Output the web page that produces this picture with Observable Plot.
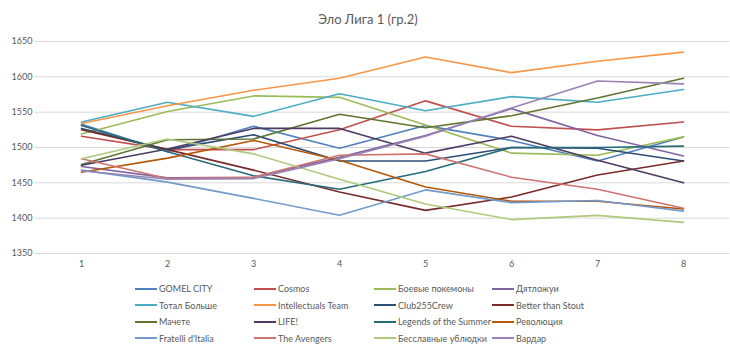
<!DOCTYPE html>
<html><head><meta charset="utf-8">
<script src="https://cdn.jsdelivr.net/npm/d3@7"></script>
<script src="https://cdn.jsdelivr.net/npm/@observablehq/plot@0.6"></script>
<style>
body{margin:0;background:#fff;font-family:Lato,"Open Sans",sans-serif;color:#595959;}
#wrap{width:730px;height:353px;position:relative;overflow:hidden;background:#fff}
#title{position:absolute;left:0;width:736px;top:11px;text-align:center;font-size:13px;line-height:16px;color:#595959}
#chart{position:absolute;left:0;top:30px}
#legend{position:absolute;left:0;top:0;width:730px;height:353px;pointer-events:none}
.item{position:absolute;font-size:9px;line-height:12px;white-space:nowrap;color:#595959}
.sw{display:inline-block;width:22px;height:2px;vertical-align:middle;margin-right:2px;position:relative;top:-1px}
</style></head>
<body><div id="wrap"><div id="title">Эло Лига 1 (гр.2)</div><div id="chart"></div><div id="legend"></div></div>
<script>
const rounds = [1, 2, 3, 4, 5, 6, 7, 8];
const yTicks = [1350, 1400, 1450, 1500, 1550, 1600, 1650];
const teams = ["GOMEL CITY", "Cosmos", "Боевые покемоны", "Дятложуи", "Тотал Больше", "Intellectuals Team", "Club255Crew", "Better than Stout", "Мачете", "LIFE!", "Legends of the Summer", "Революция", "Fratelli d'Italia", "The Avengers", "Бесславные ублюдки", "Вардар"];
const colors = ["#4F81BD", "#C0504D", "#9BBB59", "#8064A2", "#4BACC6", "#F79646", "#2C4D75", "#772C2A", "#5F7530", "#4D3B62", "#276A7C", "#B65708", "#729ACA", "#CD7371", "#AFC97A", "#9983B5"];

const gomelCity      = [1533, 1494, 1530, 1499, 1531, 1510, 1481, 1515];
const cosmos         = [1516, 1497, 1497, 1525, 1566, 1530, 1525, 1536];
const boevyePokemony = [1519, 1551, 1573, 1571, 1532, 1492, 1489, 1515];
const dyatlozhui     = [1473, 1457, 1458, 1486, 1517, 1555, 1517, 1488];
const totalBolshe    = [1536, 1564, 1544, 1576, 1552, 1572, 1564, 1582];
const intellectuals  = [1534, 1559, 1581, 1598, 1628, 1606, 1622, 1635];
const club255Crew    = [1527, 1497, 1518, 1481, 1481, 1500, 1499, 1481];
const betterThanStout= [1525, 1497, 1468, 1437, 1411, 1430, 1461, 1481];
const machete        = [1476, 1511, 1512, 1547, 1528, 1545, 1570, 1598];
const life           = [1475, 1498, 1527, 1527, 1492, 1516, 1482, 1450];
const legendsSummer  = [1531, 1494, 1460, 1441, 1466, 1500, 1500, 1502];
const revolyutsiya   = [1465, 1485, 1510, 1482, 1444, 1424, 1424, 1413];
const fratelli       = [1468, 1451, 1428, 1404, 1440, 1422, 1425, 1410];
const avengers       = [1484, 1456, 1458, 1489, 1491, 1458, 1441, 1414];
const besslavnye     = [1484, 1512, 1491, 1455, 1420, 1398, 1404, 1394];
const vardar         = [1467, 1455, 1456, 1484, 1516, 1556, 1594, 1590];

const series = [gomelCity, cosmos, boevyePokemony, dyatlozhui, totalBolshe, intellectuals, club255Crew, betterThanStout, machete, life, legendsSummer, revolyutsiya, fratelli, avengers, besslavnye, vardar];

const rows = [];
series.forEach((vals, i) => vals.forEach((v, j) => rows.push({team: teams[i], round: rounds[j], elo: v})));

const chart = Plot.plot({
  width: 730,
  height: 245,
  marginTop: 11,
  marginBottom: 22,
  marginLeft: 35,
  marginRight: 0.5,
  style: {fontFamily: "Lato, 'Open Sans', sans-serif", fontSize: "9px", color: "#595959", background: "#fff"},
  x: {type: "point", domain: rounds, padding: 0.5, tickSize: 0, tickPadding: 7, label: null},
  y: {domain: [1350, 1650], ticks: yTicks, tickSize: 0, tickPadding: 3, label: null, tickFormat: d => String(d)},
  color: {domain: teams, range: colors},
  marks: [
    Plot.ruleY(yTicks, {stroke: "#d9d9d9", strokeWidth: 1}),
    Plot.line(rows, {x: "round", y: "elo", z: "team", stroke: "team", strokeWidth: 1.6, curve: "linear"})
  ]
});
document.getElementById("chart").appendChild(chart);

const legend = document.getElementById("legend");
const colX = [135, 254, 374, 492];
const rowY = [289, 305.5, 322, 338.5];
teams.forEach((t, i) => {
  const d = document.createElement("div");
  d.className = "item";
  d.style.left = colX[i % 4] + "px";
  d.style.top = (rowY[Math.floor(i / 4)] - 6) + "px";
  const s = document.createElement("span");
  s.className = "sw";
  s.style.background = colors[i];
  d.appendChild(s);
  d.appendChild(document.createTextNode(t));
  legend.appendChild(d);
});
</script></body></html>
